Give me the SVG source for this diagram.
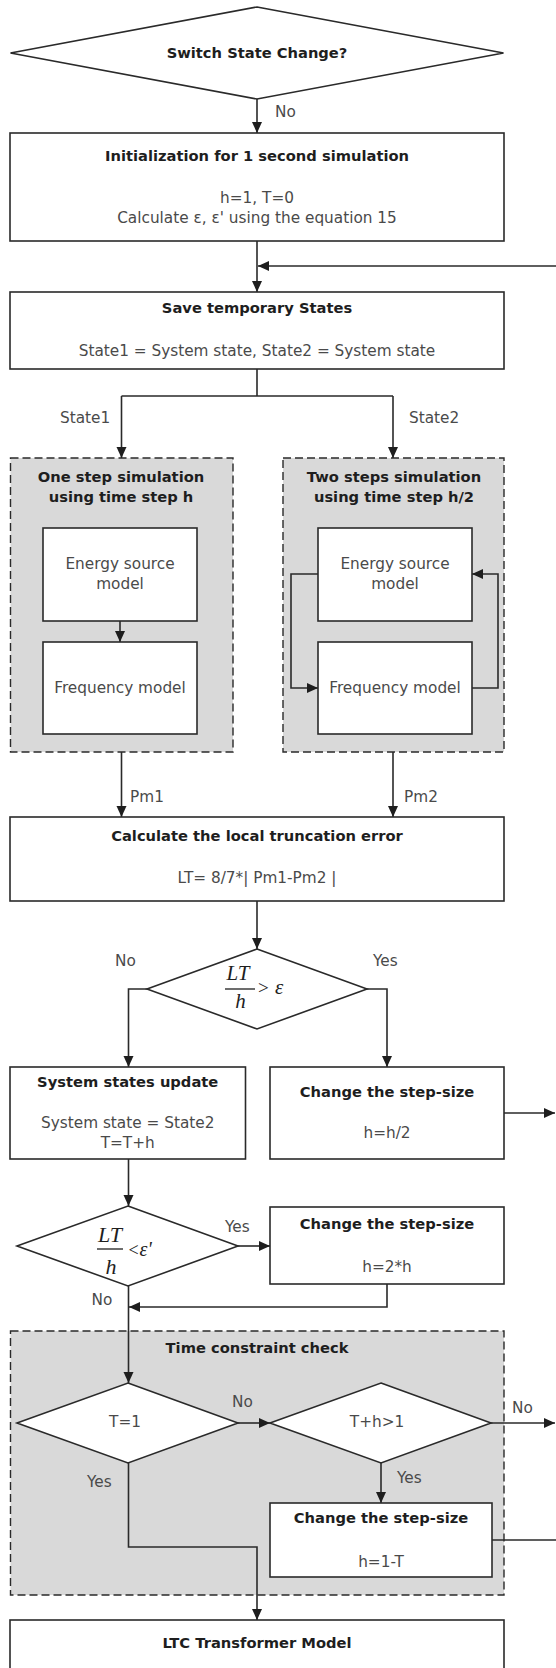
<svg xmlns="http://www.w3.org/2000/svg" width="556" height="1668" viewBox="0 0 556 1668">
  <defs>
    <marker id="arrow" markerUnits="userSpaceOnUse" markerWidth="12" markerHeight="11" refX="11" refY="5" orient="auto">
      <path d="M0,0 L11,5 L0,10 z" fill="#1e1e1e"/>
    </marker>
    <style>
      .box { fill: #fff; stroke: #2a2a2a; stroke-width: 1.6; }
      .group { fill: #d9d9d9; stroke: #2a2a2a; stroke-width: 1.4; stroke-dasharray: 8 4; }
      .title { font-family: "DejaVu Sans", "Liberation Sans", sans-serif; font-weight: bold; font-size: 14.7px; fill: #1e1e1e; text-anchor: middle; }
      .body { font-family: "DejaVu Sans", "Liberation Sans", sans-serif; font-size: 15.3px; fill: #4a4a4a; text-anchor: middle; }
      .lbl { font-family: "DejaVu Sans", "Liberation Sans", sans-serif; font-size: 15.3px; fill: #4a4a4a; }
      .math { font-family: "Liberation Serif", "DejaVu Serif", serif; font-style: italic; fill: #1e1e1e; }
      .op { font-family: "Liberation Serif", "DejaVu Serif", serif; fill: #1e1e1e; }
      .conn { fill: none; stroke: #2a2a2a; stroke-width: 1.6; }
      .arr { marker-end: url(#arrow); }
    </style>
  </defs>

  <rect width="556" height="1668" fill="#fff"/>

  <!-- grouping frames (drawn first, behind everything) -->
  <g id="one-step-group">
    <rect class="group" x="10.5" y="458" width="222.5" height="294"/>
    <text class="title" x="121" y="482">One step simulation</text>
    <text class="title" x="121" y="502">using time step h</text>
  </g>
  <g id="two-steps-group">
    <rect class="group" x="283" y="458" width="221" height="294"/>
    <text class="title" x="394" y="482">Two steps simulation</text>
    <text class="title" x="394" y="502">using time step h/2</text>
  </g>
  <g id="time-constraint-group">
    <rect class="group" x="10.5" y="1331" width="493.5" height="264"/>
    <text class="title" x="257" y="1353">Time constraint check</text>
  </g>

  <!-- connectors -->
  <g id="connectors">
    <path class="conn arr" d="M257,99 V133"/>
    <path class="conn arr" d="M257,241 V292"/>
    <path class="conn arr" d="M556,266 H258"/>
    <path class="conn" d="M257,369 V396 M121.5,396 H393"/>
    <path class="conn arr" d="M121.5,396 V458"/>
    <path class="conn arr" d="M393,396 V458"/>
    <path class="conn arr" d="M120,621 V642"/>
    <path class="conn arr" d="M318,574 H291 V688 H318"/>
    <path class="conn arr" d="M472,688 H498 V574 H472"/>
    <path class="conn arr" d="M121.5,752 V817"/>
    <path class="conn arr" d="M393,752 V817"/>
    <path class="conn arr" d="M257,901 V949"/>
    <path class="conn arr" d="M147,989 H128.5 V1067"/>
    <path class="conn arr" d="M367,989 H387 V1067"/>
    <path class="conn arr" d="M504,1113 H555"/>
    <path class="conn arr" d="M128.5,1159 V1206"/>
    <path class="conn arr" d="M238,1246 H270"/>
    <path class="conn arr" d="M387,1284 V1307 H129"/>
    <path class="conn arr" d="M128.5,1286 V1383"/>
    <path class="conn arr" d="M238,1423 H270"/>
    <path class="conn arr" d="M491,1423 H555"/>
    <path class="conn arr" d="M381,1463 V1503"/>
    <path class="conn" d="M492,1540 H556"/>
    <path class="conn arr" d="M128.5,1463 V1547 H257 V1620"/>

    <text class="lbl" x="275" y="117">No</text>
    <text class="lbl" x="60" y="423">State1</text>
    <text class="lbl" x="409" y="423">State2</text>
    <text class="lbl" x="130" y="802">Pm1</text>
    <text class="lbl" x="404" y="802">Pm2</text>
    <text class="lbl" x="115" y="966">No</text>
    <text class="lbl" x="373" y="966">Yes</text>
    <text class="lbl" x="225" y="1232">Yes</text>
    <text class="lbl" x="91.5" y="1305">No</text>
    <text class="lbl" x="232" y="1407">No</text>
    <text class="lbl" x="512" y="1413">No</text>
    <text class="lbl" x="397" y="1483">Yes</text>
    <text class="lbl" x="87" y="1487">Yes</text>
  </g>

  <!-- nodes -->
  <g id="switch-state-change">
    <polygon class="box" points="257,7 503.5,53 257,99 10.5,53"/>
    <text class="title" x="257" y="58">Switch State Change?</text>
  </g>

  <g id="initialization">
    <rect class="box" x="10" y="133" width="494" height="108"/>
    <text class="title" x="257" y="161">Initialization for 1 second simulation</text>
    <text class="body" x="257" y="203">h=1, T=0</text>
    <text class="body" x="257" y="223">Calculate ε, ε' using the equation 15</text>
  </g>

  <g id="save-states">
    <rect class="box" x="10" y="292" width="494" height="77"/>
    <text class="title" x="257" y="313">Save temporary States</text>
    <text class="body" x="257" y="356">State1 = System state, State2 = System state</text>
  </g>

  <g id="energy-source-1">
    <rect class="box" x="43" y="528" width="154" height="93"/>
    <text class="body" x="120" y="569">Energy source</text>
    <text class="body" x="120" y="589">model</text>
  </g>
  <g id="frequency-1">
    <rect class="box" x="43" y="642" width="154" height="92"/>
    <text class="body" x="120" y="693">Frequency model</text>
  </g>
  <g id="energy-source-2">
    <rect class="box" x="318" y="528" width="154" height="93"/>
    <text class="body" x="395" y="569">Energy source</text>
    <text class="body" x="395" y="589">model</text>
  </g>
  <g id="frequency-2">
    <rect class="box" x="318" y="642" width="154" height="92"/>
    <text class="body" x="395" y="693">Frequency model</text>
  </g>

  <g id="truncation-error">
    <rect class="box" x="10" y="817" width="494" height="84"/>
    <text class="title" x="257" y="841">Calculate the local truncation error</text>
    <text class="body" x="257" y="883">LT= 8/7*| Pm1-Pm2 |</text>
  </g>

  <g id="error-check">
    <polygon class="box" points="257,949 367,989 257,1029 147,989"/>
    <text class="math" x="238" y="980" font-size="21" text-anchor="middle">LT</text>
    <line x1="225" y1="989" x2="255" y2="989" stroke="#1e1e1e" stroke-width="1.3"/>
    <text class="math" x="240.5" y="1008" font-size="21" text-anchor="middle">h</text>
    <text class="op" x="258" y="994" font-size="19">&gt;</text>
    <text class="math" x="275" y="994" font-size="21">ε</text>
  </g>

  <g id="states-update">
    <rect class="box" x="10" y="1067" width="235.5" height="92"/>
    <text class="title" x="127.7" y="1087">System states update</text>
    <text class="body" x="127.7" y="1128">System state = State2</text>
    <text class="body" x="127.7" y="1148">T=T+h</text>
  </g>

  <g id="halve-step">
    <rect class="box" x="270" y="1067" width="234" height="92"/>
    <text class="title" x="387" y="1097">Change the step-size</text>
    <text class="body" x="387" y="1138">h=h/2</text>
  </g>

  <g id="low-error-check">
    <polygon class="box" points="128,1206 238,1246 128,1286 17,1246"/>
    <text class="math" x="110" y="1241.5" font-size="22" text-anchor="middle">LT</text>
    <line x1="97" y1="1249" x2="123" y2="1249" stroke="#1e1e1e" stroke-width="1.3"/>
    <text class="math" x="111" y="1274" font-size="22" text-anchor="middle">h</text>
    <text class="op" x="128.5" y="1256" font-size="18">&lt;</text>
    <text class="math" x="139.5" y="1256" font-size="20">ε'</text>
  </g>

  <g id="double-step">
    <rect class="box" x="270" y="1207" width="234" height="77"/>
    <text class="title" x="387" y="1229">Change the step-size</text>
    <text class="body" x="387" y="1272">h=2*h</text>
  </g>

  <g id="end-check">
    <polygon class="box" points="128,1383 238,1423 128,1463 17,1423"/>
    <text class="body" x="125" y="1427">T=1</text>
  </g>

  <g id="overrun-check">
    <polygon class="box" points="381,1383 491,1423 381,1463 270,1423"/>
    <text class="body" x="377" y="1427">T+h&gt;1</text>
  </g>

  <g id="clip-step">
    <rect class="box" x="270" y="1503" width="222" height="74"/>
    <text class="title" x="381" y="1523">Change the step-size</text>
    <text class="body" x="381" y="1567">h=1-T</text>
  </g>

  <g id="ltc-transformer">
    <rect class="box" x="10" y="1620" width="494" height="60"/>
    <text class="title" x="257" y="1648">LTC Transformer Model</text>
  </g>
</svg>
